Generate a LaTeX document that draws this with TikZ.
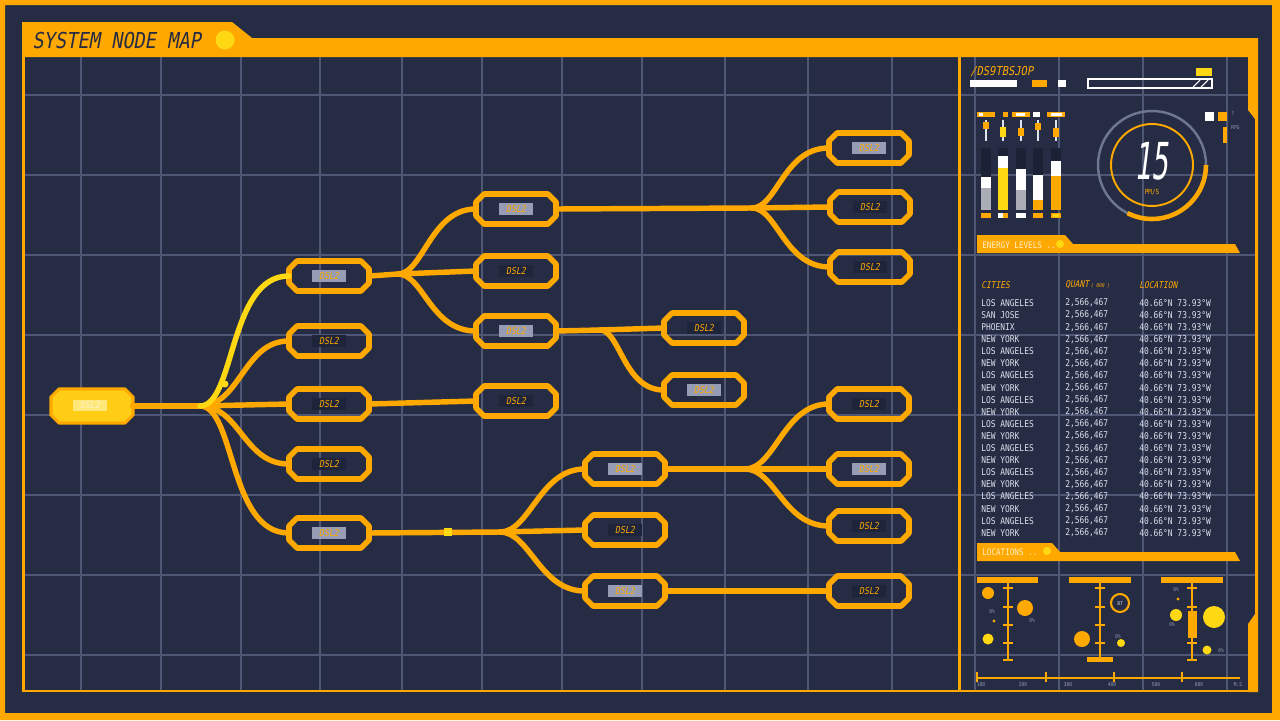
\documentclass[tikz,border=0pt]{standalone}
\usepackage{fontspec}
\newfontfamily\hud[FakeStretch=0.85]{DejaVu Sans Mono}
\newfontfamily\hudit[FakeStretch=0.85,FakeSlant=0.18]{DejaVu Sans Mono}
\newfontfamily\hudbig[FakeStretch=0.55,FakeSlant=0.12]{DejaVu Sans Mono}
\definecolor{hudbg}{RGB}{37,44,68}
\definecolor{gridc}{RGB}{78,88,116}
\definecolor{hudorange}{RGB}{255,168,0}
\definecolor{hudyellow}{RGB}{255,216,20}
\definecolor{lblgray}{RGB}{150,156,180}
\definecolor{lbldark}{RGB}{30,36,58}
\definecolor{rowtext}{RGB}{222,226,236}
\definecolor{navytext}{RGB}{40,44,66}
\definecolor{gaugegray}{RGB}{110,118,145}
\definecolor{trackc}{RGB}{28,34,54}
\definecolor{dotgray}{RGB}{170,172,182}
\definecolor{paleyellow}{RGB}{255,232,120}
\definecolor{tinygray}{RGB}{150,158,180}
\definecolor{rootyellow}{RGB}{255,206,20}
\definecolor{tabtext}{RGB}{255,240,200}
\newcommand{\hudnode}[4]{%
  \node[hubox] (#1) at (#2,#3) {};
  \draw[octline] (#1.center) ++(-40,-7) -- ++(8,-8) -- ++(64,0) -- ++(8,8) -- ++(0,14) -- ++(-8,8) -- ++(-64,0) -- ++(-8,-8) -- cycle;
  \node[lbl#4] (#1-l) at (#1.center) {DSL2};
}
\begin{document}
\begin{tikzpicture}[x=0.02cm, y=-0.02cm,
  conn/.style={draw=hudorange, line width=3.1pt, line cap=round},
  octline/.style={draw=hudorange, line width=3.2pt, line join=round},
  hubox/.style={minimum width=1.6cm, minimum height=0.6cm, inner sep=0pt},
  lblg/.style={fill=lblgray, text=hudorange, font=\hudit\fontsize{5.5}{6}\selectfont, minimum width=0.68cm, minimum height=0.24cm, inner sep=0pt},
  lbld/.style={fill=lbldark, text=hudorange, font=\hudit\fontsize{5.5}{6}\selectfont, minimum width=0.68cm, minimum height=0.24cm, inner sep=0pt},
  gridline/.style={draw=gridc, line width=0.6pt},
  cell/.style={anchor=west, text=rowtext, font=\hud\fontsize{5.3}{6}\selectfont, inner sep=0pt},
  cellh/.style={anchor=west, text=hudorange, font=\hudit\fontsize{5.3}{6}\selectfont, inner sep=0pt},
  tiny/.style={text=tinygray, font=\hud\fontsize{3}{3}\selectfont, inner sep=0pt},
  ladder/.style={draw=hudorange, line width=1.4pt}
]
\useasboundingbox (0,0) rectangle (1280,720);
\fill[hudbg] (0,0) rectangle (1280,720);
\fill[hudorange, even odd rule] (0,0) rectangle (1280,720) (5,5) rectangle (1272,713);
% grid
\foreach \gx in {81,161,241,320,402,482,562,642,725,808,892,975,1059,1143,1227}
  \draw[gridline] (\gx,57) -- (\gx,690);
\foreach \gy in {95,175,255,335,415,495,575,655}
  \draw[gridline] (24,\gy) -- (1256,\gy);
% frame
\fill[hudorange] (22,22) -- (232,22) -- (252,38) -- (1258,38) -- (1258,57) -- (22,57) -- cycle;
\fill[hudorange] (22,57) rectangle (24.5,692);
\fill[hudorange] (22,689.5) rectangle (1258,692);
\fill[hudorange] (958,57) rectangle (960.5,692);
\fill[hudorange] (1248,57) -- (1258,57) -- (1258,692) -- (1248,692) -- (1248,624) -- (1255,614) -- (1255,119) -- (1248,110) -- cycle;
\node[anchor=west, font=\hudit\fontsize{12.5}{13}\selectfont, text=navytext, inner sep=0pt] (title) at (32,41) {SYSTEM NODE MAP};
\fill[hudyellow] (225,40) circle[radius=9.5];

% nodes
\node[hubox] (root) at (92,406) {};
\filldraw[fill=rootyellow, draw=hudorange, line width=1.8pt, line join=round] (root.center) ++(-41,-9) -- ++(8,-8) -- ++(66,0) -- ++(8,8) -- ++(0,18) -- ++(-8,8) -- ++(-66,0) -- ++(-8,-8) -- cycle;
\node[fill=paleyellow, text=tabtext, font=\hudit\fontsize{5.5}{6}\selectfont, minimum width=0.68cm, minimum height=0.22cm, inner sep=0pt] (root-l) at (90,405) {DSL2};

\hudnode{A1}{329}{276}{g}
\hudnode{A2}{329}{341}{d}
\hudnode{A3}{329}{404}{d}
\hudnode{A4}{329}{464}{d}
\hudnode{A5}{329}{533}{g}
\hudnode{B1}{516}{209}{g}
\hudnode{B2}{516}{271}{d}
\hudnode{B3}{516}{331}{g}
\hudnode{B4}{516}{401}{d}
\hudnode{C1}{869}{148}{g}
\hudnode{C2}{870}{207}{d}
\hudnode{C3}{870}{267}{d}
\hudnode{D1}{704}{328}{d}
\hudnode{D2}{704}{390}{g}
\hudnode{E1}{625}{469}{g}
\hudnode{E2}{625}{530}{d}
\hudnode{E3}{625}{591}{g}
\hudnode{F1}{869}{404}{d}
\hudnode{F2}{869}{469}{g}
\hudnode{F3}{869}{526}{d}
\hudnode{F4}{869}{591}{d}

% connectors
\coordinate (b0) at (200,406);
\coordinate (b1) at (398,274);
\coordinate (c1) at (752,208);
\coordinate (d1) at (600,330);
\coordinate (e1) at (500,532);
\coordinate (f1) at (745,469);
\draw[conn] (root.east) -- (b0);
\draw[conn] (b0) .. controls +(40,0) and +(-45,0) .. (A2.west);
\draw[conn] (b0) -- (A3.west);
\draw[conn] (b0) .. controls +(40,0) and +(-45,0) .. (A4.west);
\draw[conn] (b0) .. controls +(35,0) and +(-60,0) .. (A5.west);
\draw[conn, draw=hudyellow] (b0) .. controls +(35,0) and +(-60,0) .. (A1.west);
\fill[hudyellow] (225,384) circle[radius=3.5];
\draw[conn] (A1.east) -- (b1);
\draw[conn] (b1) .. controls +(25,0) and +(-45,0) .. (B1.west);
\draw[conn] (b1) -- (B2.west);
\draw[conn] (b1) .. controls +(25,0) and +(-45,0) .. (B3.west);
\draw[conn] (B1.east) -- (c1);
\draw[conn] (c1) .. controls +(25,0) and +(-45,0) .. (C1.west);
\draw[conn] (c1) -- (C2.west);
\draw[conn] (c1) .. controls +(25,0) and +(-45,0) .. (C3.west);
\draw[conn] (B3.east) -- (d1);
\draw[conn] (d1) -- (D1.west);
\draw[conn] (d1) .. controls +(20,0) and +(-40,0) .. (D2.west);
\draw[conn] (A3.east) -- (B4.west);
\draw[conn] (A5.east) -- (e1);
\draw[conn] (e1) .. controls +(30,0) and +(-45,0) .. (E1.west);
\draw[conn] (e1) -- (E2.west);
\draw[conn] (e1) .. controls +(30,0) and +(-45,0) .. (E3.west);
\fill[hudyellow] (444,528) rectangle (452,536);
\draw[conn] (E1.east) -- (f1);
\draw[conn] (f1) .. controls +(30,0) and +(-45,0) .. (F1.west);
\draw[conn] (f1) -- (F2.west);
\draw[conn] (f1) .. controls +(30,0) and +(-45,0) .. (F3.west);
\draw[conn] (E3.east) -- (F4.west);

% ---- right panel top ----
\node[anchor=west, text=hudorange, font=\hudit\fontsize{7}{7}\selectfont, inner sep=0pt] (code) at (970,72) {/DS9TBSJOP};
\fill[white] (970,80) rectangle (1017,87);
\fill[hudorange] (1032,80) rectangle (1047,87);
\fill[white] (1058,80) rectangle (1066,87);
\draw[white, line width=0.8pt] (1088,79) rectangle (1212,88);
\draw[white, line width=0.6pt] (1193,87) -- (1200,80) (1201,87) -- (1208,80);
\fill[hudyellow] (1196,68) rectangle (1212,76);

% energy bars
\foreach \cx in {986,1003,1021,1038,1056} {
  \fill[trackc] (\cx-5,148) rectangle (\cx+5,210);
  \draw[rowtext, line width=0.6pt] (\cx,120) -- (\cx,141);
}
\fill[white] (981,177) rectangle (991,188); \fill[dotgray] (981,188) rectangle (991,210);
\fill[white] (998,156) rectangle (1008,168); \fill[hudyellow] (998,168) rectangle (1008,210);
\fill[white] (1016,169) rectangle (1026,190); \fill[dotgray] (1016,190) rectangle (1026,210);
\fill[white] (1033,175) rectangle (1043,200); \fill[hudorange] (1033,200) rectangle (1043,210);
\fill[white] (1051,161) rectangle (1061,176); \fill[hudorange] (1051,176) rectangle (1061,210);
% knobs
\fill[hudorange] (983,122) rectangle (989,129);
\fill[hudyellow] (1000,127) rectangle (1006,137);
\fill[hudorange] (1018,128) rectangle (1024,136);
\fill[hudorange] (1035,123) rectangle (1041,130);
\fill[hudorange] (1053,128) rectangle (1059,137);
% top caps
\fill[hudorange] (977,112) rectangle (995,117); \fill[white] (979,113) rectangle (983,116);
\fill[hudorange] (1003,112) rectangle (1008,117);
\fill[hudorange] (1012,112) rectangle (1030,117); \fill[white] (1016,113) rectangle (1025,116);
\fill[white] (1033,112) rectangle (1040,117);
\fill[hudorange] (1047,112) rectangle (1065,117); \fill[white] (1051,113) rectangle (1062,116);
% bottom caps
\fill[hudorange] (981,213) rectangle (991,218);
\fill[white] (998,213) rectangle (1008,218); \fill[hudorange] (1003,213) rectangle (1008,218);
\fill[white] (1016,213) rectangle (1026,218);
\fill[hudorange] (1033,213) rectangle (1043,218);
\fill[hudorange] (1051,213) rectangle (1061,218); \fill[hudyellow] (1053,214) rectangle (1059,217);

% gauge
\coordinate (g) at (1152,165);
\draw[gaugegray, line width=1.4pt] (g) circle[radius=54];
\draw[hudorange, line width=1.1pt] (g) circle[radius=41];
\draw[hudorange, line width=2.6pt] (g) ++(54,0) arc[start angle=0, end angle=-117, radius=1.08cm];
\node[font=\hudbig\fontsize{29}{29}\selectfont, text=white, inner sep=0pt] (gnum) at (1151,161) {15};
\node[font=\hud\fontsize{4}{4}\selectfont, text=hudorange, inner sep=0pt] (gunit) at (1152,192) {PM/S};
\fill[white] (1205,112) rectangle (1214,121);
\fill[hudorange] (1218,112) rectangle (1227,121);
\fill[hudorange] (1223,127) rectangle (1227,143);
\node[tiny, anchor=west] (qmark) at (1231,114) {?};
\node[tiny, anchor=west] (rpg) at (1231,128) {RPG};

% energy levels tab
\fill[hudorange] (977,235) -- (1065,235) -- (1073,244) -- (1235,244) -- (1240,253) -- (977,253) -- cycle;
\node[anchor=west, text=tabtext, font=\hud\fontsize{5.1}{6}\selectfont, inner sep=0pt] (energy) at (982,245) {ENERGY LEVELS ..};
\fill[hudyellow] (1060,244) circle[radius=4];

% table
\node[cellh] (hcity) at (981,285) {CITIES};
\node[cellh] (hqty) at (1065,285) {QUANT\,{\fontsize{3}{3}\selectfont ( 000 )}};
\node[cellh] (hloc) at (1139,285) {LOCATION};
\foreach \c [count=\i from 0] in {LOS ANGELES,SAN JOSE,PHOENIX,NEW YORK,LOS ANGELES,NEW YORK,LOS ANGELES,NEW YORK,LOS ANGELES,NEW YORK,LOS ANGELES,NEW YORK,LOS ANGELES,NEW YORK,LOS ANGELES,NEW YORK,LOS ANGELES,NEW YORK,LOS ANGELES,NEW YORK} {
  \node[cell] (city\i) at (981,303+12.1*\i) {\c};
  \node[cell] (qty\i) at (1065,303+12.1*\i) {2,566,467};
  \node[cell] (loc\i) at (1139,303+12.1*\i) {40.66°N 73.93°W};
}

% locations tab
\fill[hudorange] (977,543) -- (1052,543) -- (1060,552) -- (1235,552) -- (1240,561) -- (977,561) -- cycle;
\node[anchor=west, text=tabtext, font=\hud\fontsize{5.1}{6}\selectfont, inner sep=0pt] (locs) at (982,552) {LOCATIONS ..};
\fill[hudyellow] (1047,551) circle[radius=4];

% locations panel
\fill[hudorange] (977,577) rectangle (1038,583);
\fill[hudorange] (1069,577) rectangle (1131,583);
\fill[hudorange] (1161,577) rectangle (1223,583);
\draw[ladder] (1008,583) -- (1008,660);
\foreach \ty in {588,607,625,643,660} \draw[ladder] (1003,\ty) -- (1013,\ty);
\draw[ladder] (1100,583) -- (1100,658);
\foreach \ty in {588,607,625,643} \draw[ladder] (1095,\ty) -- (1105,\ty);
\fill[hudorange] (1087,657) rectangle (1113,662);
\draw[ladder] (1192,583) -- (1192,660);
\foreach \ty in {588,607,643,660} \draw[ladder] (1187,\ty) -- (1197,\ty);
\fill[hudorange] (1188,611) rectangle (1197,638);
\fill[hudorange] (988,593) circle[radius=6];
\fill[hudorange] (1025,608) circle[radius=8];
\fill[hudorange] (994,621) circle[radius=1.6];
\fill[hudyellow] (988,639) circle[radius=5.5];
\draw[hudorange, line width=1.2pt] (1120,603) circle[radius=9];
\node[tiny, text=rowtext] (c87) at (1120,604) {87};
\fill[hudorange] (1082,639) circle[radius=8];
\fill[hudyellow] (1121,643) circle[radius=4];
\fill[hudyellow] (1176,615) circle[radius=6];
\fill[hudyellow] (1214,617) circle[radius=11];
\fill[hudorange] (1178,599) circle[radius=1.6];
\fill[hudyellow] (1207,650) circle[radius=4.5];
\node[tiny] (p1) at (992,612) {0\%};
\node[tiny] (p2) at (1032,621) {0\%};
\node[tiny] (p3) at (1118,637) {0\%};
\node[tiny] (p4) at (1176,590) {0\%};
\node[tiny] (p5) at (1172,625) {0\%};
\node[tiny] (p6) at (1221,651) {0\%};
% axis
\draw[hudorange, line width=1.2pt] (977,678) -- (1240,678);
\foreach \tx in {977,1046,1114,1182} \draw[hudorange, line width=1.2pt] (\tx,672) -- (\tx,682);
\node[tiny] (ax1) at (981,685) {100};
\node[tiny] (ax2) at (1023,685) {200};
\node[tiny] (ax3) at (1068,685) {300};
\node[tiny] (ax4) at (1112,685) {400};
\node[tiny] (ax5) at (1156,685) {500};
\node[tiny] (ax6) at (1199,685) {600};
\node[tiny] (ax7) at (1238,685) {M.S};
\end{tikzpicture}
\end{document}
